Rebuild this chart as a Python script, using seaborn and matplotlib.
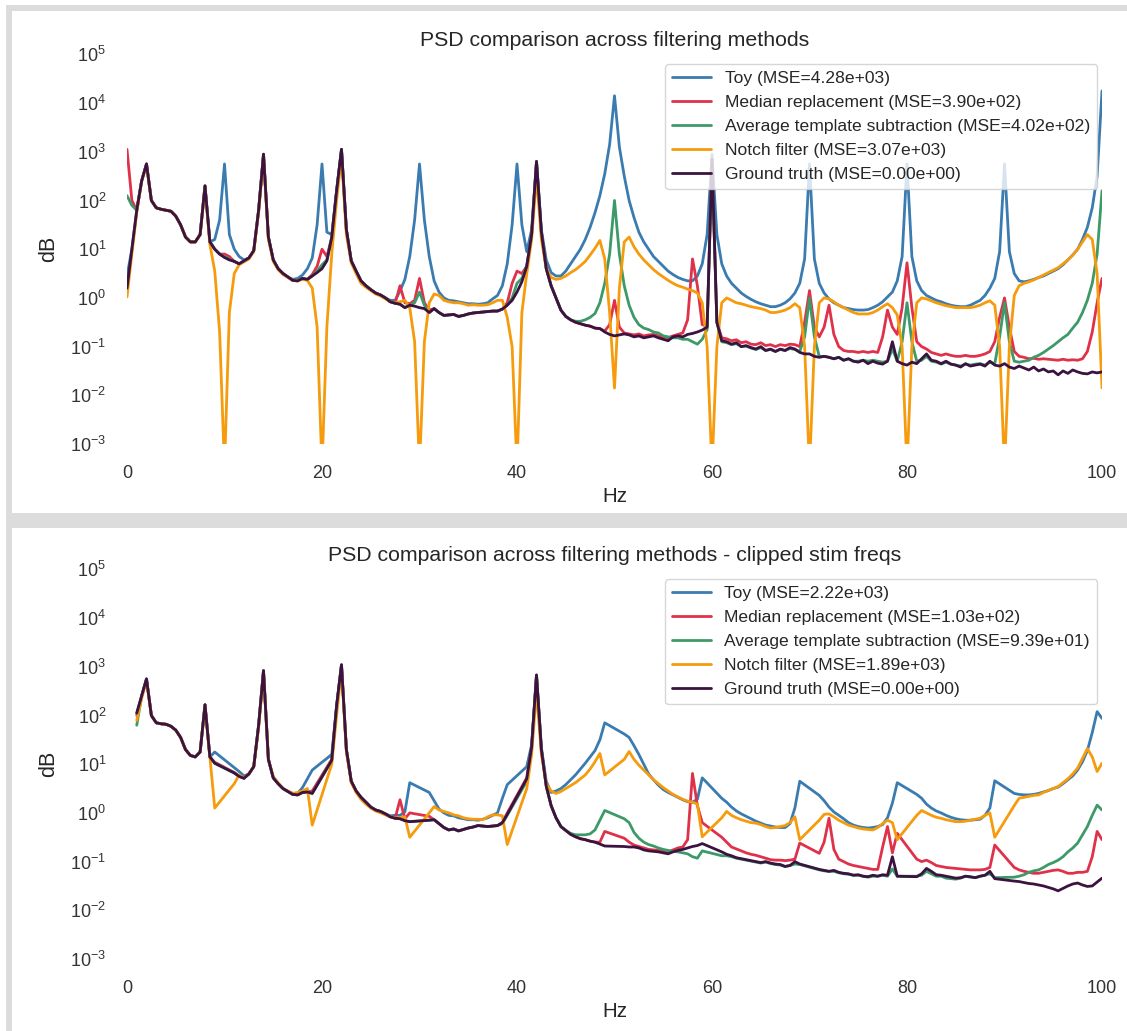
import numpy as np
import pandas as pd
import matplotlib
matplotlib.use("Agg")
import matplotlib.pyplot as plt
from matplotlib.patches import Rectangle
import seaborn as sns

# ---------------------------------------------------------------------------
# Spectra, stored as log10(power) on a 0.5 Hz grid
# ---------------------------------------------------------------------------
freqs = np.arange(0.0, 100.5, 0.5)
stim_hz = np.arange(10, 100, 10)
# bins close to each stimulation frequency are dropped in the clipped view
freqs_clipped = np.array([f for f in np.arange(1.0, 100.5, 0.5)
                          if np.min(np.abs(stim_hz - f)) > 0.5])

methods = ["Toy", "Median replacement", "Average template subtraction",
           "Notch filter", "Ground truth"]
mse_full = [4.28e3, 3.90e2, 4.02e2, 3.07e3, 0.0]
mse_clipped = [2.22e3, 1.03e2, 9.39e1, 1.89e3, 0.0]
palette = ["#3a7bb0", "#e0314a", "#3d9a68", "#f59b0c", "#3b1240"]

toy_full = [
    0.45, 1.0, 1.8, 2.4, 2.75, 2.0, 1.85, 1.82, 1.8, 1.78, 1.68, 1.5, 1.25, 1.15, 1.15, 1.3, 2.3, 1.15, 1.2, 1.6,
    2.75, 1.3, 1.0, 0.85, 0.78, 0.82, 0.97, 1.8, 2.95, 1.25, 0.78, 0.6, 0.5, 0.43, 0.38, 0.4, 0.47, 0.6, 0.82, 1.5,
    2.75, 1.35, 1.3, 2.2, 3.05, 1.4, 0.76, 0.55, 0.35, 0.25, 0.17, 0.1, 0.06, 0.0, -0.05, -0.05, 0.14, 0.38, 0.85, 1.6,
    2.75, 1.6, 0.85, 0.35, 0.12, 0.0, -0.05, -0.06, -0.08, -0.1, -0.12, -0.12, -0.13, -0.12, -0.1, -0.02, 0.05, 0.25, 0.7, 1.5,
    2.75, 1.5, 0.95, 1.4, 2.8, 1.4, 0.78, 0.52, 0.45, 0.45, 0.55, 0.7, 0.85, 1.0, 1.2, 1.45, 1.75, 2.1, 2.55, 3.15,
    4.15, 3.1, 2.5, 2.0, 1.65, 1.35, 1.15, 1.0, 0.85, 0.75, 0.65, 0.55, 0.48, 0.42, 0.38, 0.35, 0.35, 0.45, 0.7, 1.3,
    2.95, 1.3, 0.7, 0.45, 0.3, 0.2, 0.1, 0.03, -0.03, -0.08, -0.12, -0.15, -0.18, -0.18, -0.15, -0.1, -0.02, 0.1, 0.3, 0.8,
    2.75, 0.8, 0.3, 0.1, -0.02, -0.1, -0.15, -0.2, -0.22, -0.24, -0.25, -0.25, -0.24, -0.2, -0.15, -0.08, 0.02, 0.12, 0.35, 0.85,
    2.75, 0.85, 0.35, 0.15, 0.05, 0.0, -0.05, -0.08, -0.12, -0.15, -0.17, -0.18, -0.18, -0.15, -0.1, -0.05, 0.05, 0.2, 0.4, 0.95,
    2.75, 0.95, 0.5, 0.35, 0.33, 0.35, 0.38, 0.42, 0.45, 0.5, 0.55, 0.6, 0.68, 0.78, 0.88, 1.0, 1.2, 1.45, 1.85, 2.5,
    4.25]

median_full = [
    3.05, 2.0, 1.8, 2.4, 2.75, 2.0, 1.85, 1.82, 1.8, 1.78, 1.68, 1.5, 1.25, 1.15, 1.15, 1.3, 2.3, 1.15, 1.0, 0.9,
    0.9, 0.85, 0.75, 0.7, 0.76, 0.82, 0.97, 1.8, 2.95, 1.25, 0.78, 0.6, 0.5, 0.43, 0.36, 0.35, 0.4, 0.38, 0.48, 0.65,
    1.0, 0.85, 1.24, 2.2, 3.05, 1.4, 0.76, 0.55, 0.35, 0.25, 0.17, 0.1, 0.06, 0.0, -0.08, -0.11, 0.25, -0.1, -0.12, -0.05,
    0.4, -0.1, -0.25, -0.22, -0.3, -0.36, -0.35, -0.34, -0.38, -0.36, -0.33, -0.31, -0.3, -0.29, -0.28, -0.27, -0.27, -0.23, -0.1, 0.3,
    0.55, 0.5, 0.65, 1.3, 2.8, 1.35, 0.6, 0.25, 0.0, -0.25, -0.38, -0.45, -0.5, -0.53, -0.56, -0.58, -0.62, -0.63, -0.68, -0.55,
    -0.05, -0.6, -0.72, -0.74, -0.76, -0.74, -0.78, -0.76, -0.75, -0.78, -0.8, -0.82, -0.78, -0.75, -0.72, -0.45, 0.8, 0.25, -0.55, -0.58,
    2.85, -0.5, -0.82, -0.84, -0.88, -0.86, -0.92, -0.9, -0.95, -0.96, -0.92, -0.98, -0.96, -1.0, -0.96, -0.98, -0.95, -0.96, -1.0, -0.5,
    0.15, -0.6, -0.8, -0.6, -0.15, -0.75, -1.0, -1.08, -1.1, -1.1, -1.12, -1.1, -1.12, -1.1, -1.12, -0.8, -0.25, -0.6, -0.75, -0.2,
    0.72, -0.2, -0.9, -1.0, -1.05, -1.12, -1.15, -1.18, -1.15, -1.18, -1.2, -1.2, -1.18, -1.2, -1.2, -1.18, -1.15, -1.1, -0.9, -0.4,
    0.0, -0.6, -1.1, -1.2, -1.22, -1.25, -1.24, -1.26, -1.25, -1.26, -1.27, -1.28, -1.26, -1.28, -1.27, -1.28, -1.25, -1.1, -0.7, -0.1,
    0.4]

template_full = [
    2.1, 1.9, 1.8, 2.4, 2.75, 2.0, 1.85, 1.82, 1.8, 1.78, 1.68, 1.5, 1.25, 1.15, 1.15, 1.3, 2.3, 1.15, 1.0, 0.9,
    0.84, 0.8, 0.75, 0.7, 0.76, 0.82, 0.97, 1.8, 2.95, 1.25, 0.78, 0.6, 0.5, 0.43, 0.36, 0.35, 0.4, 0.38, 0.45, 0.55,
    0.68, 0.78, 1.24, 2.2, 3.05, 1.4, 0.76, 0.55, 0.35, 0.25, 0.17, 0.1, 0.06, 0.0, -0.08, -0.11, -0.13, -0.2, -0.15, -0.1,
    0.12, -0.15, -0.3, -0.22, -0.3, -0.36, -0.35, -0.34, -0.38, -0.36, -0.33, -0.31, -0.3, -0.29, -0.28, -0.27, -0.27, -0.23, -0.15, 0.0,
    0.3, 0.4, 0.65, 1.3, 2.8, 1.35, 0.6, 0.25, 0.0, -0.25, -0.38, -0.45, -0.48, -0.48, -0.45, -0.4, -0.32, -0.1, 0.3, 0.9,
    2.0, 0.9, 0.25, -0.15, -0.4, -0.55, -0.62, -0.65, -0.7, -0.72, -0.78, -0.8, -0.82, -0.82, -0.85, -0.85, -0.9, -0.95, -0.85, -0.65,
    2.85, -0.5, -0.9, -0.92, -0.96, -0.94, -1.0, -0.99, -1.03, -1.06, -1.02, -1.08, -1.06, -1.1, -1.06, -1.08, -1.04, -1.06, -1.1, -0.8,
    0.0, -0.8, -1.2, -1.2, -1.22, -1.25, -1.22, -1.28, -1.25, -1.3, -1.3, -1.28, -1.3, -1.28, -1.3, -1.32, -1.3, -1.05, -1.3, -0.9,
    -0.1, -0.9, -1.3, -1.28, -1.2, -1.3, -1.32, -1.36, -1.32, -1.36, -1.38, -1.4, -1.36, -1.38, -1.36, -1.35, -1.38, -1.32, -1.35, -0.8,
    -0.1, -0.9, -1.3, -1.32, -1.3, -1.28, -1.22, -1.18, -1.12, -1.05, -0.98, -0.9, -0.82, -0.75, -0.62, -0.5, -0.3, -0.05, 0.3, 0.9,
    2.2]

notch_full = [
    0.02, 0.9, 1.75, 2.4, 2.72, 2.0, 1.85, 1.82, 1.8, 1.78, 1.68, 1.5, 1.25, 1.15, 1.15, 1.3, 2.25, 1.1, 0.55, -0.7,
    -3.5, -0.3, 0.5, 0.68, 0.74, 0.8, 0.95, 1.75, 2.9, 1.2, 0.75, 0.58, 0.48, 0.42, 0.36, 0.36, 0.38, 0.36, 0.2, -0.6,
    -3.5, -0.6, 0.9, 2.0, 2.9, 1.3, 0.72, 0.5, 0.3, 0.22, 0.15, 0.08, 0.04, -0.02, -0.08, -0.1, -0.08, -0.05, -0.2, -0.9,
    -3.5, -0.9, -0.1, 0.08, 0.05, -0.05, -0.08, -0.1, -0.1, -0.12, -0.15, -0.14, -0.15, -0.15, -0.14, -0.1, -0.05, -0.05, -0.4, -1.0,
    -3.5, -0.3, 0.5, 1.2, 2.5, 1.2, 0.6, 0.42, 0.38, 0.4, 0.45, 0.52, 0.58, 0.66, 0.75, 0.88, 1.02, 1.18, 0.8, -0.3,
    -1.85, 0.2, 1.15, 1.25, 1.05, 0.9, 0.78, 0.68, 0.58, 0.5, 0.43, 0.36, 0.3, 0.25, 0.22, 0.18, 0.15, 0.1, -0.1, -1.0,
    -3.5, -1.0, -0.1, 0.0, -0.05, -0.1, -0.12, -0.15, -0.18, -0.2, -0.22, -0.25, -0.3, -0.3, -0.28, -0.25, -0.2, -0.12, -0.2, -1.0,
    -3.5, -1.0, -0.1, 0.0, -0.02, -0.08, -0.15, -0.2, -0.25, -0.3, -0.33, -0.33, -0.33, -0.3, -0.25, -0.18, -0.12, -0.2, -0.35, -1.0,
    -3.5, -1.0, -0.1, 0.0, -0.02, -0.06, -0.1, -0.13, -0.16, -0.18, -0.2, -0.2, -0.2, -0.2, -0.18, -0.15, -0.1, -0.06, -0.15, -1.0,
    -3.5, -1.0, 0.05, 0.25, 0.3, 0.33, 0.37, 0.42, 0.47, 0.52, 0.57, 0.62, 0.7, 0.78, 0.88, 1.0, 1.15, 1.3, 1.2, 0.5,
    -1.85]

truth_full = [
    0.2, 1.0, 1.8, 2.4, 2.75, 2.0, 1.85, 1.82, 1.8, 1.78, 1.68, 1.5, 1.25, 1.15, 1.15, 1.3, 2.3, 1.15, 1.0, 0.9,
    0.83, 0.78, 0.75, 0.7, 0.76, 0.82, 0.97, 1.8, 2.95, 1.25, 0.78, 0.6, 0.5, 0.43, 0.36, 0.35, 0.4, 0.38, 0.45, 0.52,
    0.6, 0.76, 1.24, 2.2, 3.05, 1.4, 0.76, 0.55, 0.35, 0.25, 0.17, 0.1, 0.06, 0.0, -0.08, -0.11, -0.13, -0.2, -0.15, -0.17,
    -0.2, -0.22, -0.3, -0.22, -0.3, -0.36, -0.35, -0.34, -0.38, -0.36, -0.33, -0.31, -0.3, -0.29, -0.28, -0.27, -0.27, -0.23, -0.15, -0.05,
    0.12, 0.33, 0.65, 1.3, 2.8, 1.35, 0.6, 0.25, 0.0, -0.25, -0.38, -0.45, -0.5, -0.53, -0.56, -0.58, -0.62, -0.63, -0.7, -0.75,
    -0.78, -0.76, -0.74, -0.76, -0.8, -0.78, -0.82, -0.8, -0.78, -0.82, -0.85, -0.88, -0.8, -0.78, -0.8, -0.75, -0.73, -0.7, -0.66, -0.6,
    2.85, -0.5, -0.88, -0.9, -0.95, -0.92, -1.0, -0.98, -1.02, -1.05, -1.0, -1.08, -1.05, -1.1, -1.05, -1.08, -1.02, -1.05, -1.12, -1.15,
    -1.15, -1.2, -1.22, -1.2, -1.22, -1.25, -1.22, -1.28, -1.25, -1.3, -1.32, -1.28, -1.35, -1.3, -1.34, -1.36, -1.3, -0.9, -1.3, -1.35,
    -1.38, -1.32, -1.35, -1.25, -1.15, -1.28, -1.3, -1.35, -1.3, -1.36, -1.38, -1.42, -1.35, -1.4, -1.38, -1.36, -1.4, -1.3, -1.38, -1.4,
    -1.35, -1.42, -1.45, -1.4, -1.44, -1.48, -1.42, -1.5, -1.46, -1.52, -1.5, -1.58, -1.5, -1.55, -1.48, -1.52, -1.55, -1.56, -1.52, -1.54,
    -1.52]

# clipped view: one row per stretch between stimulation frequencies
toy_clip = [
    2.05, 2.4, 2.75, 2.0, 1.85, 1.83, 1.82, 1.78, 1.7, 1.55, 1.3, 1.18, 1.15, 1.25, 2.22, 1.15, 1.25,
    0.93, 0.85, 0.76, 0.8, 0.95, 1.8, 2.92, 1.1, 0.72, 0.6, 0.5, 0.44, 0.4, 0.4, 0.52, 0.7, 0.88,
    1.2, 2.2, 3.04, 1.3, 0.65, 0.45, 0.32, 0.22, 0.12, 0.06, 0.03, -0.02, -0.06, -0.05, -0.05, 0.02, 0.62,
    0.42, 0.25, 0.08, 0.0, -0.05, -0.06, -0.1, -0.12, -0.14, -0.14, -0.15, -0.13, -0.1, -0.05, 0.0, 0.3, 0.58,
    0.95, 1.4, 2.83, 1.35, 0.65, 0.42, 0.45, 0.5, 0.58, 0.68, 0.78, 0.9, 1.02, 1.15, 1.28, 1.5, 1.85,
    1.62, 1.55, 1.38, 1.2, 1.0, 0.8, 0.68, 0.57, 0.48, 0.42, 0.37, 0.32, 0.27, 0.23, 0.22, 0.28, 0.72,
    0.3, 0.22, 0.12, 0.04, -0.02, -0.07, -0.12, -0.17, -0.21, -0.25, -0.27, -0.29, -0.3, -0.3, -0.22, 0.1, 0.65,
    0.36, 0.25, 0.12, 0.02, -0.05, -0.12, -0.2, -0.25, -0.28, -0.3, -0.31, -0.3, -0.28, -0.24, -0.1, 0.2, 0.62,
    0.38, 0.3, 0.18, 0.1, 0.04, 0.0, -0.05, -0.09, -0.12, -0.14, -0.15, -0.15, -0.14, -0.13, -0.05, 0.1, 0.66,
    0.4, 0.38, 0.37, 0.37, 0.38, 0.4, 0.43, 0.46, 0.5, 0.53, 0.6, 0.68, 0.76, 0.88, 1.05, 1.28, 1.65, 2.08, 1.94]

median_clip = [
    2.0, 2.4, 2.75, 2.0, 1.85, 1.83, 1.82, 1.78, 1.7, 1.55, 1.3, 1.18, 1.15, 1.25, 2.22, 1.15, 1.04,
    0.83, 0.76, 0.72, 0.8, 0.95, 1.8, 2.92, 1.1, 0.72, 0.6, 0.5, 0.44, 0.38, 0.37, 0.42, 0.43, 0.45,
    1.1, 2.2, 3.04, 1.3, 0.65, 0.45, 0.32, 0.22, 0.12, 0.06, 0.03, -0.02, -0.08, -0.11, 0.27, -0.12, 0.0,
    -0.07, -0.14, -0.22, -0.3, -0.35, -0.33, -0.37, -0.34, -0.31, -0.29, -0.26, -0.27, -0.28, -0.27, -0.26, -0.2, 0.0,
    0.72, 1.35, 2.83, 1.3, 0.55, 0.15, -0.1, -0.28, -0.36, -0.44, -0.49, -0.53, -0.55, -0.58, -0.6, -0.6, -0.38,
    -0.52, -0.6, -0.66, -0.69, -0.72, -0.75, -0.76, -0.77, -0.78, -0.8, -0.76, -0.72, -0.7, -0.55, 0.81, 0.15, -0.2,
    -0.5, -0.6, -0.7, -0.74, -0.78, -0.82, -0.85, -0.87, -0.9, -0.93, -0.96, -0.97, -0.97, -0.98, -0.97, -0.95, -0.62,
    -0.83, -0.6, -0.11, -0.75, -0.95, -1.0, -1.05, -1.08, -1.1, -1.12, -1.14, -1.16, -1.16, -0.7, -0.28, -0.82, -0.42,
    -0.95, -1.0, -0.97, -1.02, -1.08, -1.1, -1.12, -1.13, -1.14, -1.15, -1.16, -1.17, -1.17, -1.17, -1.16, -1.12, -0.66,
    -1.12, -1.17, -1.2, -1.22, -1.24, -1.24, -1.22, -1.2, -1.18, -1.17, -1.2, -1.24, -1.24, -1.22, -1.22, -1.2, -0.9, -0.38, -0.55]

template_clip = [
    1.8, 2.4, 2.75, 2.0, 1.85, 1.83, 1.82, 1.78, 1.7, 1.55, 1.3, 1.18, 1.15, 1.25, 2.22, 1.15, 1.02,
    0.82, 0.75, 0.71, 0.8, 0.95, 1.8, 2.92, 1.1, 0.72, 0.6, 0.5, 0.44, 0.38, 0.37, 0.42, 0.43, 0.4,
    1.08, 2.2, 3.04, 1.3, 0.65, 0.45, 0.32, 0.22, 0.12, 0.06, 0.03, -0.02, -0.08, -0.11, -0.12, -0.16, -0.18,
    -0.15, -0.14, -0.22, -0.3, -0.35, -0.33, -0.37, -0.34, -0.31, -0.29, -0.26, -0.27, -0.28, -0.27, -0.26, -0.22, -0.05,
    0.65, 1.35, 2.83, 1.3, 0.55, 0.15, -0.1, -0.28, -0.36, -0.42, -0.45, -0.45, -0.45, -0.43, -0.35, -0.15, 0.05,
    -0.12, -0.2, -0.4, -0.52, -0.6, -0.65, -0.68, -0.72, -0.75, -0.77, -0.79, -0.8, -0.82, -0.84, -0.9, -0.93, -0.78,
    -0.88, -0.88, -0.9, -0.93, -0.95, -0.97, -0.99, -1.01, -1.03, -1.01, -1.04, -1.06, -1.07, -1.1, -1.08, -1.05, -1.06,
    -1.17, -1.19, -1.2, -1.2, -1.23, -1.25, -1.26, -1.28, -1.28, -1.3, -1.32, -1.3, -1.3, -1.28, -1.3, -1.15, -1.3,
    -1.3, -1.28, -1.2, -1.25, -1.3, -1.3, -1.34, -1.35, -1.36, -1.34, -1.3, -1.32, -1.33, -1.3, -1.28, -1.25, -1.33,
    -1.32, -1.3, -1.27, -1.22, -1.19, -1.17, -1.12, -1.06, -1.02, -0.97, -0.9, -0.8, -0.72, -0.62, -0.45, -0.28, -0.05, 0.16, 0.06]

notch_clip = [
    1.9, 2.35, 2.72, 2.0, 1.85, 1.83, 1.82, 1.78, 1.7, 1.55, 1.3, 1.18, 1.15, 1.25, 2.2, 1.15, 0.1,
    0.6, 0.78, 0.72, 0.8, 0.95, 1.75, 2.88, 1.1, 0.75, 0.62, 0.5, 0.45, 0.4, 0.42, 0.45, 0.5, -0.25,
    1.0, 2.0, 2.95, 1.25, 0.62, 0.42, 0.28, 0.18, 0.1, 0.04, 0.0, -0.04, -0.08, -0.1, -0.1, -0.08, -0.5,
    0.0, 0.13, 0.06, 0.03, 0.0, -0.04, -0.06, -0.1, -0.12, -0.13, -0.13, -0.14, -0.08, -0.04, -0.04, -0.06, -0.65,
    0.5, 1.2, 2.5, 1.2, 0.6, 0.45, 0.4, 0.44, 0.5, 0.56, 0.62, 0.7, 0.78, 0.9, 1.05, 1.22, 0.78,
    1.1, 1.26, 1.1, 0.98, 0.88, 0.78, 0.68, 0.6, 0.52, 0.45, 0.38, 0.33, 0.28, 0.24, 0.22, 0.18, -0.49,
    -0.1, 0.03, -0.05, -0.1, -0.14, -0.17, -0.2, -0.21, -0.24, -0.28, -0.31, -0.3, -0.28, -0.26, -0.2, -0.08, -0.55,
    -0.15, -0.03, -0.02, -0.08, -0.15, -0.2, -0.25, -0.28, -0.31, -0.33, -0.34, -0.35, -0.3, -0.22, -0.15, -0.2, -0.55,
    -0.05, 0.05, 0.0, -0.05, -0.09, -0.11, -0.14, -0.16, -0.18, -0.18, -0.17, -0.15, -0.13, -0.11, -0.05, 0.0, -0.5,
    0.15, 0.3, 0.32, 0.34, 0.36, 0.37, 0.42, 0.46, 0.5, 0.54, 0.62, 0.7, 0.8, 0.92, 1.12, 1.32, 1.15, 0.85, 1.02]

truth_clip = [
    2.05, 2.4, 2.75, 2.0, 1.85, 1.83, 1.82, 1.78, 1.7, 1.55, 1.3, 1.18, 1.15, 1.25, 2.22, 1.15, 1.02,
    0.82, 0.75, 0.71, 0.8, 0.95, 1.8, 2.92, 1.1, 0.72, 0.6, 0.5, 0.44, 0.38, 0.37, 0.42, 0.43, 0.4,
    1.08, 2.2, 3.04, 1.3, 0.65, 0.45, 0.32, 0.22, 0.12, 0.06, 0.03, -0.02, -0.08, -0.11, -0.12, -0.16, -0.18,
    -0.15, -0.14, -0.22, -0.3, -0.35, -0.33, -0.37, -0.34, -0.31, -0.29, -0.26, -0.27, -0.28, -0.27, -0.26, -0.2, -0.03,
    0.7, 1.35, 2.83, 1.3, 0.55, 0.15, -0.1, -0.28, -0.36, -0.44, -0.49, -0.53, -0.55, -0.58, -0.6, -0.64, -0.68,
    -0.69, -0.7, -0.7, -0.72, -0.76, -0.78, -0.79, -0.8, -0.82, -0.84, -0.8, -0.77, -0.75, -0.72, -0.69, -0.67, -0.63,
    -0.8, -0.85, -0.88, -0.92, -0.94, -0.96, -0.98, -1.0, -1.02, -1.0, -1.03, -1.05, -1.06, -1.1, -1.08, -1.0, -1.05,
    -1.16, -1.18, -1.2, -1.18, -1.22, -1.24, -1.25, -1.28, -1.27, -1.3, -1.31, -1.28, -1.3, -1.27, -1.28, -0.9, -1.3,
    -1.31, -1.25, -1.14, -1.2, -1.27, -1.28, -1.3, -1.32, -1.34, -1.33, -1.3, -1.31, -1.33, -1.3, -1.28, -1.2, -1.35,
    -1.4, -1.41, -1.43, -1.45, -1.46, -1.48, -1.5, -1.53, -1.56, -1.6, -1.55, -1.5, -1.46, -1.44, -1.48, -1.51, -1.5, -1.42, -1.34]

series_full = [toy_full, median_full, template_full, notch_full, truth_full]
series_clip = [toy_clip, median_clip, template_clip, notch_clip, truth_clip]

# ---------------------------------------------------------------------------
# Styling
# ---------------------------------------------------------------------------
sns.set_theme(style="white")
plt.rcParams["font.family"] = ["Liberation Sans", "DejaVu Sans"]
plt.rcParams["mathtext.default"] = "regular"

W, H = 1127, 1031
fig = plt.figure(figsize=(W / 100, H / 100), dpi=100)
fig.patch.set_facecolor("white")


def px_rect(x0, y0, x1, y1, color="#dcdcdc"):
    """Grey frame piece given in pixel coordinates (origin top-left)."""
    fig.add_artist(Rectangle((x0 / W, 1 - y1 / H), (x1 - x0) / W, (y1 - y0) / H,
                             transform=fig.transFigure, facecolor=color,
                             edgecolor="none", zorder=0))


# output-cell frames around each panel
px_rect(6, 5, W, 11)
px_rect(6, 5, 12, 520)
px_rect(6, 513, W, 528)
px_rect(6, 522, 12, H)


def draw_panel(ax, x, series, mse, title):
    frames = []
    labels = []
    for name, vals, err in zip(methods, series, mse):
        label = f"{name} (MSE={err:.2e})"
        labels.append(label)
        frames.append(pd.DataFrame({"Hz": x,
                                    "power": 10.0 ** np.asarray(vals, dtype=float),
                                    "method": label}))
    df = pd.concat(frames, ignore_index=True)
    sns.lineplot(data=df, x="Hz", y="power", hue="method", hue_order=labels,
                 palette=palette, linewidth=2.0, estimator=None, ax=ax)
    ax.set_yscale("log")
    ax.set_ylim(1e-3, 1e5)
    ax.set_xlim(0, 100)
    ax.set_xticks([0, 20, 40, 60, 80, 100])
    ax.set_yticks([10.0 ** k for k in range(-3, 6)])
    ax.minorticks_off()
    for side in ax.spines.values():
        side.set_visible(False)
    ax.grid(False)
    ax.tick_params(axis="both", labelsize=13, length=0, colors="#333333")
    ax.tick_params(axis="x", pad=15)
    ax.tick_params(axis="y", pad=15)
    ax.set_title(title, fontsize=15.3, color="#262626")
    ax.set_xlabel("Hz", fontsize=14.8, color="#262626", labelpad=4)
    ax.set_ylabel("dB", fontsize=15.5, color="#262626", labelpad=8)
    sns.move_legend(ax, "upper right", title=None, fontsize=12.6, frameon=True,
                    framealpha=0.8, edgecolor="#cccccc",
                    bbox_to_anchor=(0.995, 0.975), borderaxespad=0.0,
                    handlelength=2.2)


ax_w = 975 / W
ax_h = 389.6 / H
ax_top = fig.add_axes([127 / W, 1 - 444 / H, ax_w, ax_h])
ax_bot = fig.add_axes([127 / W, 1 - 959 / H, ax_w, ax_h])

draw_panel(ax_top, freqs, series_full, mse_full,
           "PSD comparison across filtering methods")
draw_panel(ax_bot, freqs_clipped, series_clip, mse_clipped,
           "PSD comparison across filtering methods - clipped stim freqs")

fig.savefig("out.png", dpi=100)
